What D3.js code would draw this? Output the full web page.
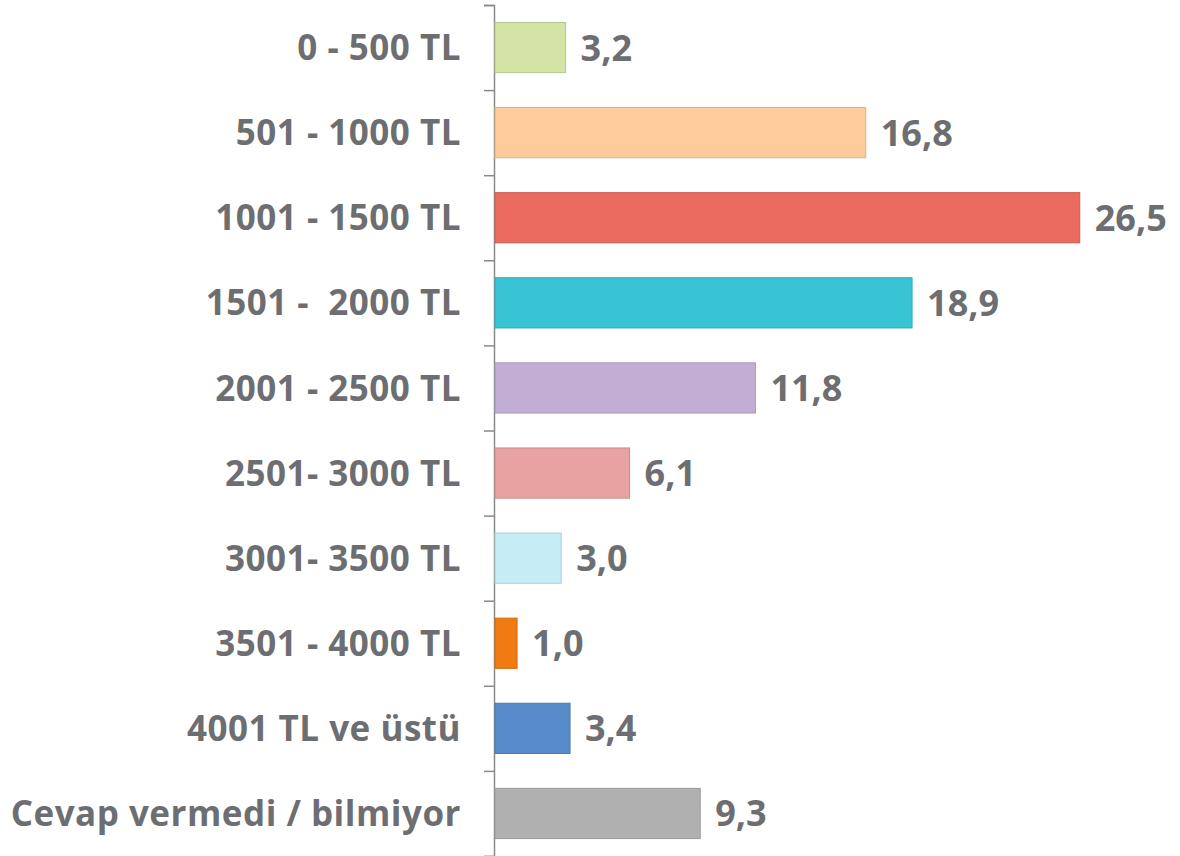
<!DOCTYPE html>
<html>
<head>
<meta charset="utf-8">
<script src="https://cdn.jsdelivr.net/npm/d3@7"></script>
<style>
  body { margin: 0; background: #fff; }
  text { font-family: "Open Sans", Lato, sans-serif; font-weight: bold; fill: #6d6e71; white-space: pre; }
</style>
</head>
<body>
<div class="chart"></div>
<script>
var categories = [
  '0 - 500 TL', '501 - 1000 TL', '1001 - 1500 TL', '1501 -  2000 TL',
  '2001 - 2500 TL', '2501- 3000 TL', '3001- 3500 TL', '3501 - 4000 TL',
  '4001 TL ve üstü', 'Cevap vermedi / bilmiyor'
];
var values = [3.2, 16.8, 26.5, 18.9, 11.8, 6.1, 3.0, 1.0, 3.4, 9.3];
var colors = ['#d3e4a6', '#fdcc9a', '#ec6b5f', '#38c4d4', '#c2aed4',
  '#e8a3a0', '#c6ecf5', '#f07b13', '#578ccb', '#b0b0b0'];

var fullWidth = 1180, fullHeight = 856;
var margin = { top: 5, left: 494 };

var svg = d3.select('.chart')
  .append('svg')
  .attr('width', fullWidth)
  .attr('height', fullHeight);

var yScale = d3.scaleBand()
  .domain(categories)
  .range([margin.top, fullHeight])
  .paddingInner(0.41)
  .paddingOuter(0.205);

var xScale = d3.scaleLinear()
  .domain([0, 30])
  .range([margin.left + 1, margin.left + 1 + 662]);

// axis with ticks at the band boundaries
var edgeScale = d3.scaleLinear()
  .domain([0, categories.length])
  .range([margin.top, fullHeight]);

var axis = svg.append('g')
  .attr('transform', 'translate(' + margin.left + ',0)')
  .call(d3.axisLeft(edgeScale)
    .tickValues(d3.range(categories.length + 1))
    .tickSizeInner(10)
    .tickSizeOuter(10)
    .tickFormat(''));
axis.selectAll('line, path')
  .attr('stroke', '#8a8a8a')
  .attr('stroke-width', 1.5);

svg.selectAll('rect.bar')
  .data(values)
  .enter()
  .append('rect')
  .attr('class', 'bar')
  .attr('x', xScale(0))
  .attr('y', (d, i) => yScale(categories[i]))
  .attr('width', d => xScale(d) - xScale(0))
  .attr('height', yScale.bandwidth())
  .attr('fill', (d, i) => colors[i])
  .attr('stroke', (d, i) => d3.color(colors[i]).darker(0.4))
  .attr('stroke-width', 1);

svg.selectAll('text.cat')
  .data(categories)
  .enter()
  .append('text')
  .attr('class', 'cat')
  .attr('x', 461)
  .attr('y', d => yScale(d) + yScale.bandwidth() / 2)
  .attr('dy', '0.36em')
  .style('text-anchor', 'end')
  .style('font-size', '35px')
  .style('letter-spacing', '0.5px')
  .text(d => d);

svg.selectAll('text.val')
  .data(values)
  .enter()
  .append('text')
  .attr('class', 'val')
  .attr('x', d => xScale(d) + 15)
  .attr('y', (d, i) => yScale(categories[i]) + yScale.bandwidth() / 2)
  .attr('dy', '0.36em')
  .style('font-size', '36px')
  .text(d => d.toFixed(1).replace('.', ','));
</script>
</body>
</html>
